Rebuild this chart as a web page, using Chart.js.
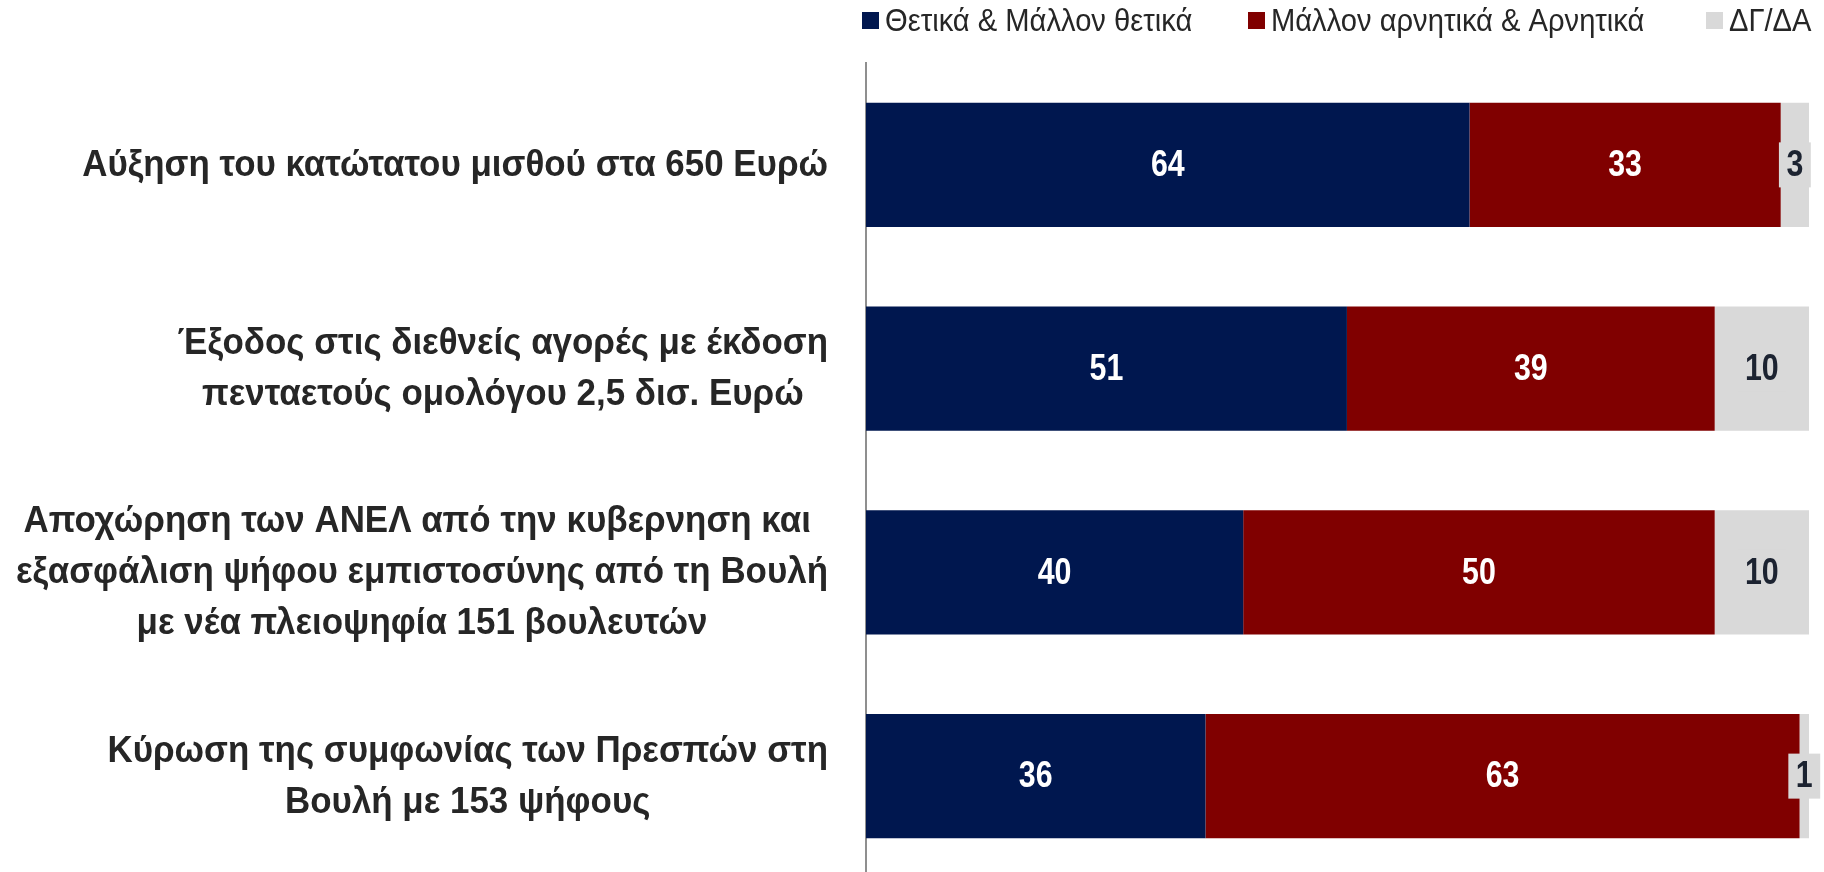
<!DOCTYPE html>
<html>
<head>
<meta charset="utf-8">
<script src="https://cdn.jsdelivr.net/npm/chart.js@4.4.1/dist/chart.umd.min.js"></script>
<style>
    html, body { margin: 0; padding: 0; background: #ffffff; overflow: hidden; }
    #chart { display: block; }
</style>
</head>
<body>
<canvas id="chart" width="1824" height="878" style="width:1824px;height:878px"></canvas>
<script>
// Categories (one per bar, lines split the way the labels wrap)
const categories = [
    ["Αύξηση του κατώτατου μισθού στα 650 Ευρώ"],
    ["Έξοδος στις διεθνείς αγορές με έκδοση", "πενταετούς ομολόγου 2,5 δισ. Ευρώ"],
    ["Αποχώρηση των ΑΝΕΛ από την κυβερνηση και ", "εξασφάλιση ψήφου εμπιστοσύνης από τη Βουλή", "με νέα πλειοψηφία 151 βουλευτών"],
    ["Κύρωση της συμφωνίας των Πρεσπών στη", "Βουλή με 153 ψήφους"]
];

// Series values (%)
const positive = [64, 51, 40, 36];
const negative = [33, 39, 50, 63];
const dontKnow = [3, 10, 10, 1];

// Series names
const seriesNames = ["Θετικά & Μάλλον θετικά", "Μάλλον αρνητικά & Αρνητικά", "ΔΓ/ΔΑ"];
const seriesColors = ["#00174f", "#800000", "#d9d9d9"];

// Narrow look: Liberation Sans squeezed horizontally
const FONT = '"Liberation Sans", Arial, sans-serif';

function narrowText(ctx, text, x, y, align, sx) {
    ctx.save();
    ctx.translate(x, y);
    ctx.scale(sx, 1);
    ctx.textAlign = align;
    ctx.fillText(text, 0, 0);
    ctx.restore();
}

function narrowWidth(ctx, text, sx) {
    return ctx.measureText(text).width * sx;
}

// Value labels drawn in the middle of each segment
const valueLabels = {
    id: 'valueLabels',
    afterDatasetsDraw(chart) {
        const ctx = chart.ctx;
        const sx = 0.82;
        ctx.save();
        ctx.font = 'bold 37px ' + FONT;
        ctx.textBaseline = 'middle';
        chart.data.datasets.forEach((ds, i) => {
            const meta = chart.getDatasetMeta(i);
            meta.data.forEach((bar, j) => {
                const x = (bar.x + bar.base) / 2;
                const y = bar.y;
                const text = String(ds.data[j]);
                if (i == 2) {
                    // gray boxed label for the "don't know" series
                    const w = narrowWidth(ctx, text, sx) + 15;
                    ctx.fillStyle = '#d9d9d9';
                    ctx.fillRect(x - w / 2, y - 22.5, w, 45);
                    ctx.fillStyle = '#1c2331';
                } else {
                    ctx.fillStyle = '#ffffff';
                }
                narrowText(ctx, text, x, y + 1, 'center', sx);
            });
        });
        ctx.restore();
    }
};

// Category labels: block right-aligned to the axis, lines centered inside it
const categoryLabels = {
    id: 'categoryLabels',
    afterDraw(chart) {
        const ctx = chart.ctx;
        const yScale = chart.scales.y;
        const right = chart.chartArea.left - 38;
        const lineHeight = 51;
        const sx = 0.97;
        ctx.save();
        ctx.font = 'bold 36px ' + FONT;
        ctx.fillStyle = '#262626';
        ctx.textBaseline = 'middle';
        categories.forEach((lines, i) => {
            const yc = yScale.getPixelForTick(i) + 1;
            const maxW = Math.max(...lines.map(l => narrowWidth(ctx, l, sx)));
            const xc = right - maxW / 2;
            lines.forEach((line, k) => {
                const y = yc + (k - (lines.length - 1) / 2) * lineHeight;
                narrowText(ctx, line, xc, y, 'center', sx);
            });
        });
        ctx.restore();
    }
};

// Legend at the top right (square + narrow text)
const legendX = [862, 1248, 1706];
const topLegend = {
    id: 'topLegend',
    afterDraw(chart) {
        const ctx = chart.ctx;
        ctx.save();
        ctx.font = '31px ' + FONT;
        ctx.textBaseline = 'middle';
        chart.data.datasets.forEach((ds, i) => {
            const x = legendX[i];
            ctx.fillStyle = ds.backgroundColor;
            ctx.fillRect(x, 12, 17, 17);
            ctx.fillStyle = '#262626';
            narrowText(ctx, ds.label, x + 23, 22, 'left', 0.94);
        });
        ctx.restore();
    }
};

const ctx = document.getElementById('chart').getContext('2d');
new Chart(ctx, {
    type: 'bar',
    data: {
        labels: categories,
        datasets: [
            { label: seriesNames[0], data: positive, backgroundColor: seriesColors[0] },
            { label: seriesNames[1], data: negative, backgroundColor: seriesColors[1] },
            { label: seriesNames[2], data: dontKnow, backgroundColor: seriesColors[2] }
        ]
    },
    options: {
        indexAxis: 'y',
        responsive: false,
        animation: false,
        maintainAspectRatio: false,
        layout: {
            padding: { top: 63, right: 15, bottom: 0, left: 0 }
        },
        datasets: {
            bar: {
                barPercentage: 0.61,
                categoryPercentage: 1.0,
                borderWidth: 0
            }
        },
        scales: {
            x: {
                stacked: true,
                min: 0,
                max: 100,
                display: false
            },
            y: {
                stacked: true,
                grid: { display: false },
                ticks: { display: false },
                border: { display: true, color: '#8f8f8f', width: 2 },
                afterFit: function(scale) {
                    scale.width = 866;
                }
            }
        },
        plugins: {
            legend: { display: false },
            tooltip: { enabled: false }
        }
    },
    plugins: [valueLabels, categoryLabels, topLegend]
});
</script>
</body>
</html>
